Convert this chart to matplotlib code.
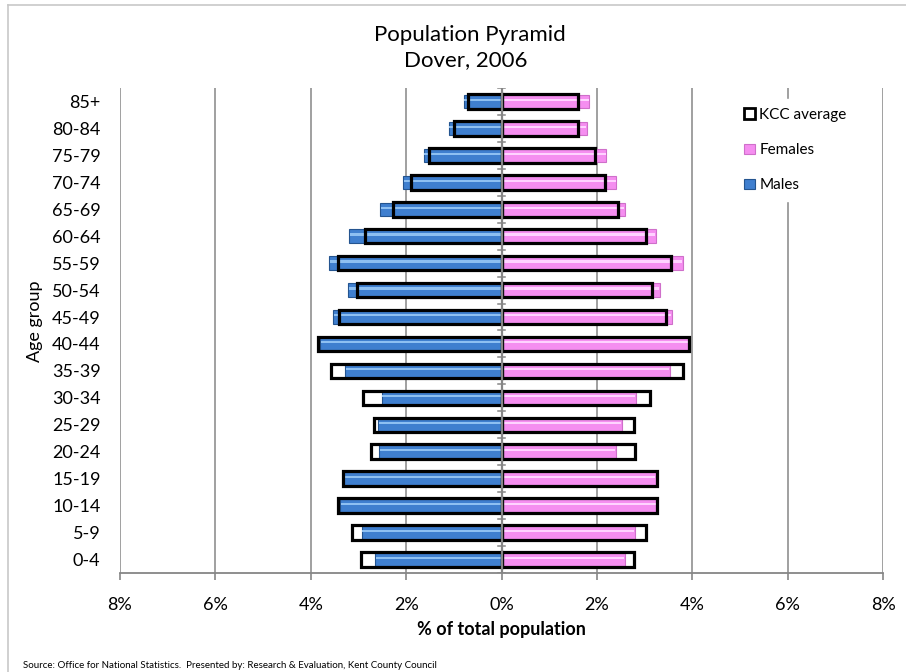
import matplotlib
matplotlib.use("Agg")
import matplotlib.pyplot as plt
from matplotlib.patches import Patch
from matplotlib.lines import Line2D
import numpy as np

plt.rcParams['font.family'] = ['Lato', 'DejaVu Sans']

age_groups = ["0-4", "5-9", "10-14", "15-19", "20-24", "25-29", "30-34", "35-39",
              "40-44", "45-49", "50-54", "55-59", "60-64", "65-69", "70-74",
              "75-79", "80-84", "85+"]
males = [2.65, 2.93, 3.39, 3.32, 2.57, 2.59, 2.51, 3.28, 3.80, 3.53, 3.21, 3.61,
         3.19, 2.54, 2.06, 1.63, 1.10, 0.78]
females = [2.58, 2.79, 3.25, 3.23, 2.40, 2.52, 2.82, 3.54, 3.92, 3.57, 3.32, 3.81,
           3.23, 2.59, 2.41, 2.20, 1.79, 1.84]
kcc_males = [2.94, 3.13, 3.43, 3.33, 2.73, 2.68, 2.91, 3.58, 3.85, 3.41, 3.02, 3.43,
             2.87, 2.27, 1.90, 1.51, 0.99, 0.70]
kcc_females = [2.78, 3.02, 3.26, 3.26, 2.80, 2.78, 3.12, 3.80, 3.94, 3.44, 3.15, 3.56,
               3.02, 2.45, 2.17, 1.97, 1.61, 1.61]
x_ticks = [-8, -6, -4, -2, 0, 2, 4, 6, 8]
x_tick_labels = ["8%", "6%", "4%", "2%", "0%", "2%", "4%", "6%", "8%"]

W, H = 906, 672
fig = plt.figure(figsize=(W / 100, H / 100), dpi=100)
fig.patch.set_facecolor("white")
ax = fig.add_axes([120 / W, 1 - 573 / H, (883 - 120) / W, (573 - 88) / H])

y = np.arange(len(age_groups))
m = -np.array(males)
f = np.array(females)

bh = 0.5
blue, blue_edge, blue_hi = "#3f7fcf", "#24548f", "#8ec0f2"
pink, pink_edge, pink_hi = "#f58ef0", "#cf6fca", "#ffd3ff"

ax.barh(y, m, height=bh, color=blue, edgecolor=blue_edge, linewidth=0.8, zorder=3)
ax.barh(y + bh * 0.12, m * 0.995, height=bh * 0.16, color=blue_hi, linewidth=0, zorder=3.1)
ax.barh(y, f, height=bh, color=pink, edgecolor=pink_edge, linewidth=0.8, zorder=3)
ax.barh(y + bh * 0.12, f * 0.995, height=bh * 0.16, color=pink_hi, linewidth=0, zorder=3.1)

ax.barh(y, -np.array(kcc_males), height=bh + 0.04, facecolor="none", edgecolor="black",
        linewidth=2.3, zorder=4)
ax.barh(y, np.array(kcc_females), height=bh + 0.04, facecolor="none", edgecolor="black",
        linewidth=2.3, zorder=4)

ax.set_xlim(-8, 8)
ax.set_ylim(-0.5, len(age_groups) - 0.5)
ax.set_xticks(x_ticks)
ax.set_xticklabels(x_tick_labels, fontsize=13)
ax.set_yticks(y)
ax.set_yticklabels(age_groups, fontsize=13)
ax.tick_params(axis="y", length=0, pad=14)
ax.tick_params(axis="x", direction="out", length=5, width=1.2, color="#868686", pad=12)

for s in ["top", "right", "left"]:
    ax.spines[s].set_visible(False)
ax.spines["bottom"].set_color("#868686")
ax.spines["bottom"].set_linewidth(1.3)

for xv in x_ticks:
    if xv != 0:
        ax.axvline(xv, color="#868686", linewidth=1.1, zorder=1)
ax.axvline(0, color="#868686", linewidth=1.6, zorder=5)
for b in np.arange(-0.5, len(age_groups), 1.0):
    ax.plot([-0.07, 0.07], [b, b], color="#868686", linewidth=1.1, zorder=5)

ax.set_ylabel("Age group", fontsize=13, labelpad=6)
ax.yaxis.set_label_coords(-0.101, 0.52)
ax.set_xlabel("% of total population", fontsize=13, fontweight="bold", labelpad=6)

fig.text(470 / W, 1 - 35 / H, "Population Pyramid", ha="center", va="center", fontsize=16)
fig.text(466 / W, 1 - 60 / H, "Dover, 2006", ha="center", va="center", fontsize=16)
fig.text(23 / W, 1 - 665 / H, "Source: Office for National Statistics.  Presented by: Research & Evaluation, Kent County Council",
         ha="left", va="center", fontsize=7)

handles = [
    Patch(facecolor="white", edgecolor="black", linewidth=2.0, label="KCC average"),
    Patch(facecolor=pink, edgecolor=pink_edge, linewidth=0.8, label="Females"),
    Patch(facecolor=blue, edgecolor=blue_edge, linewidth=0.8, label="Males"),
]
leg = ax.legend(handles=handles, loc="upper left", bbox_to_anchor=(735 / W, 1 - 99 / H),
                bbox_transform=fig.transFigure, frameon=True, fontsize=11,
                handlelength=0.7, handleheight=0.7, handletextpad=0.3,
                labelspacing=1.38, borderpad=0.6, borderaxespad=0)
leg.get_frame().set_facecolor("white")
leg.get_frame().set_edgecolor("white")
leg.get_frame().set_alpha(1)
leg.set_zorder(10)

fig.add_artist(Line2D([8 / W, 8 / W], [0, 1 - 5 / H], color="#c8c8c8", linewidth=1.2))
fig.add_artist(Line2D([8 / W, 1], [1 - 5 / H, 1 - 5 / H], color="#c8c8c8", linewidth=1.2))

fig.savefig("out.png", dpi=100, facecolor="white")
